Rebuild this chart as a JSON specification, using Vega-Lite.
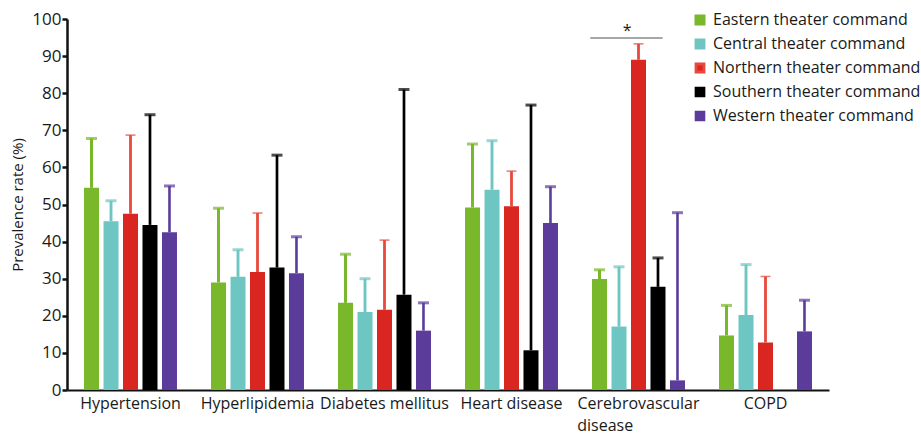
{
  "$schema": "https://vega.github.io/schema/vega-lite/v6.json",
  "width": 762,
  "height": 371,
  "autosize": {"type": "none"},
  "padding": {"left": 67, "top": 19, "right": 92, "bottom": 45},
  "background": "white",
  "config": {
    "font": "Open Sans",
    "view": {"stroke": null},
    "axis": {"labelColor": "#1a1a1a", "titleColor": "#1a1a1a", "grid": false},
    "axisY": {
      "titleFontSize": 15, "titleFontWeight": "normal", "titlePadding": 6,
      "labelFontSize": 17, "labelPadding": 1, "tickSize": 5, "tickWidth": 2.5, "tickColor": "#111",
      "domainColor": "#111", "domainWidth": 2.5
    }
  },
  "datasets": {
    "main": [
      {"disease": "Hypertension", "command": "Eastern theater command", "value": 54.5, "upper": 67.8},
      {"disease": "Hypertension", "command": "Central theater command", "value": 45.5, "upper": 51.0},
      {"disease": "Hypertension", "command": "Northern theater command", "value": 47.5, "upper": 68.7},
      {"disease": "Hypertension", "command": "Southern theater command", "value": 44.5, "upper": 74.2},
      {"disease": "Hypertension", "command": "Western theater command", "value": 42.5, "upper": 55.0},
      {"disease": "Hyperlipidemia", "command": "Eastern theater command", "value": 29.0, "upper": 49.0},
      {"disease": "Hyperlipidemia", "command": "Central theater command", "value": 30.5, "upper": 37.8},
      {"disease": "Hyperlipidemia", "command": "Northern theater command", "value": 31.8, "upper": 47.7},
      {"disease": "Hyperlipidemia", "command": "Southern theater command", "value": 33.0, "upper": 63.3},
      {"disease": "Hyperlipidemia", "command": "Western theater command", "value": 31.5, "upper": 41.3},
      {"disease": "Diabetes mellitus", "command": "Eastern theater command", "value": 23.5, "upper": 36.6},
      {"disease": "Diabetes mellitus", "command": "Central theater command", "value": 21.0, "upper": 30.0},
      {"disease": "Diabetes mellitus", "command": "Northern theater command", "value": 21.6, "upper": 40.4},
      {"disease": "Diabetes mellitus", "command": "Southern theater command", "value": 25.7, "upper": 81.0},
      {"disease": "Diabetes mellitus", "command": "Western theater command", "value": 16.0, "upper": 23.5},
      {"disease": "Heart disease", "command": "Eastern theater command", "value": 49.2, "upper": 66.3},
      {"disease": "Heart disease", "command": "Central theater command", "value": 54.0, "upper": 67.2},
      {"disease": "Heart disease", "command": "Northern theater command", "value": 49.5, "upper": 59.0},
      {"disease": "Heart disease", "command": "Southern theater command", "value": 10.7, "upper": 76.8},
      {"disease": "Heart disease", "command": "Western theater command", "value": 45.0, "upper": 54.8},
      {"disease": "Cerebrovascular disease", "command": "Eastern theater command", "value": 29.9, "upper": 32.4},
      {"disease": "Cerebrovascular disease", "command": "Central theater command", "value": 17.1, "upper": 33.2},
      {"disease": "Cerebrovascular disease", "command": "Northern theater command", "value": 89.0, "upper": 93.3},
      {"disease": "Cerebrovascular disease", "command": "Southern theater command", "value": 27.8, "upper": 35.6},
      {"disease": "Cerebrovascular disease", "command": "Western theater command", "value": 2.6, "upper": 47.8},
      {"disease": "COPD", "command": "Eastern theater command", "value": 14.7, "upper": 22.8},
      {"disease": "COPD", "command": "Central theater command", "value": 20.2, "upper": 33.8},
      {"disease": "COPD", "command": "Northern theater command", "value": 12.8, "upper": 30.6},
      {"disease": "COPD", "command": "Western theater command", "value": 15.8, "upper": 24.2}
    ],
    "sig": [
      {"start": 4.12, "end": 4.69, "level": 94.9, "mid": 4.41, "label": "*"}
    ]
  },
  "layer": [
    {
      "data": {"name": "main"},
      "layer": [
        {
          "mark": {"type": "bar"},
          "encoding": {
            "x": {
              "field": "disease", "type": "nominal", "sort": null,
              "scale": {"paddingInner": 0.268, "paddingOuter": 0.134},
              "axis": {
                "title": null, "ticks": false, "domainColor": "#111", "domainWidth": 2.2,
                "labelFontSize": 16, "labelPadding": 5, "labelAngle": 0, "labelAlign": "center", "labelLineHeight": 22,
                "labelExpr": "datum.value == 'Cerebrovascular disease' ? ['Cerebrovascular', 'disease\u00a0\u00a0\u00a0\u00a0\u00a0\u00a0\u00a0\u00a0\u00a0\u00a0\u00a0\u00a0\u00a0\u00a0\u00a0\u00a0\u200b'] : datum.value"
              }
            },
            "xOffset": {
              "field": "command", "type": "nominal", "sort": null,
              "scale": {"paddingInner": 0.23, "paddingOuter": 0,
                "domain": ["Eastern theater command", "Central theater command", "Northern theater command", "Southern theater command", "Western theater command"]}
            },
            "y": {
              "field": "value", "type": "quantitative",
              "scale": {"domain": [0, 100], "nice": false},
              "axis": {"title": "Prevalence rate (%)", "values": [0, 10, 20, 30, 40, 50, 60, 70, 80, 90, 100]}
            },
            "color": {
              "field": "command", "type": "nominal",
              "scale": {"domain": ["Eastern theater command", "Central theater command", "Northern theater command", "Southern theater command", "Western theater command"],
                        "range": ["#78b82a", "#6ec6c2", "#da2620", "#000000", "#5b3c9b"]},
              "legend": {
                "title": null, "orient": "none", "legendX": 625, "legendY": -7,
                "symbolType": "square", "symbolSize": 64, "symbolStrokeWidth": 0,
                "labelFontSize": 16, "labelColor": "#1a1a1a", "labelOffset": 5, "rowPadding": 4, "padding": 0,
                "labelLimit": 300
              }
            }
          }
        },
        {
          "mark": {"type": "rule"},
          "encoding": {
            "x": {"field": "disease", "type": "nominal", "sort": null},
            "xOffset": {"field": "command", "type": "nominal", "sort": null},
            "y": {"field": "value", "type": "quantitative", "axis": {"title": "Prevalence rate (%)", "values": [0, 10, 20, 30, 40, 50, 60, 70, 80, 90, 100]}},
            "y2": {"field": "upper"},
            "stroke": {"field": "command", "type": "nominal",
              "scale": {"domain": ["Eastern theater command", "Central theater command", "Northern theater command", "Southern theater command", "Western theater command"],
                        "range": ["#78b82a", "#6ec6c2", "#e8493c", "#000000", "#5b3c9b"]}, "legend": null},
            "strokeWidth": {"field": "command", "type": "nominal",
              "scale": {"domain": ["Eastern theater command", "Central theater command", "Northern theater command", "Southern theater command", "Western theater command"],
                        "range": [3, 2.6, 1.6, 3.4, 2.6]}, "legend": null}
          }
        },
        {
          "transform": [{"filter": "datum.command != 'Northern theater command'"}],
          "mark": {"type": "tick", "thickness": 3, "size": 11, "orient": "horizontal"},
          "encoding": {
            "x": {"field": "disease", "type": "nominal", "sort": null},
            "xOffset": {"field": "command", "type": "nominal", "sort": null},
            "y": {"field": "upper", "type": "quantitative", "axis": {"title": "Prevalence rate (%)", "values": [0, 10, 20, 30, 40, 50, 60, 70, 80, 90, 100]}},
            "color": {"field": "command", "type": "nominal", "legend": null}
          }
        },
        {
          "transform": [{"filter": "datum.command == 'Northern theater command'"}],
          "mark": {"type": "tick", "thickness": 1.6, "size": 10, "orient": "horizontal", "color": "#e8493c"},
          "encoding": {
            "x": {"field": "disease", "type": "nominal", "sort": null},
            "xOffset": {"field": "command", "type": "nominal", "sort": null},
            "y": {"field": "upper", "type": "quantitative", "axis": {"title": "Prevalence rate (%)", "values": [0, 10, 20, 30, 40, 50, 60, 70, 80, 90, 100]}}
          }
        }
      ]
    },
    {
      "data": {"name": "sig"},
      "layer": [
        {
          "mark": {"type": "rule", "color": "#8a8a8a", "strokeWidth": 1.5},
          "encoding": {
            "x": {"field": "start", "type": "quantitative", "scale": {"domain": [0, 6], "nice": false, "zero": false}, "axis": null},
            "x2": {"field": "end"},
            "y": {"field": "level", "type": "quantitative", "axis": null}
          }
        },
        {
          "mark": {"type": "text", "fontSize": 16, "dy": -7, "color": "#1a1a1a"},
          "encoding": {
            "x": {"field": "mid", "type": "quantitative", "axis": null},
            "y": {"field": "level", "type": "quantitative", "axis": null},
            "text": {"field": "label"}
          }
        }
      ]
    }
  ],
  "resolve": {"scale": {"x": "independent"}, "axis": {"y": "independent"}}
}
